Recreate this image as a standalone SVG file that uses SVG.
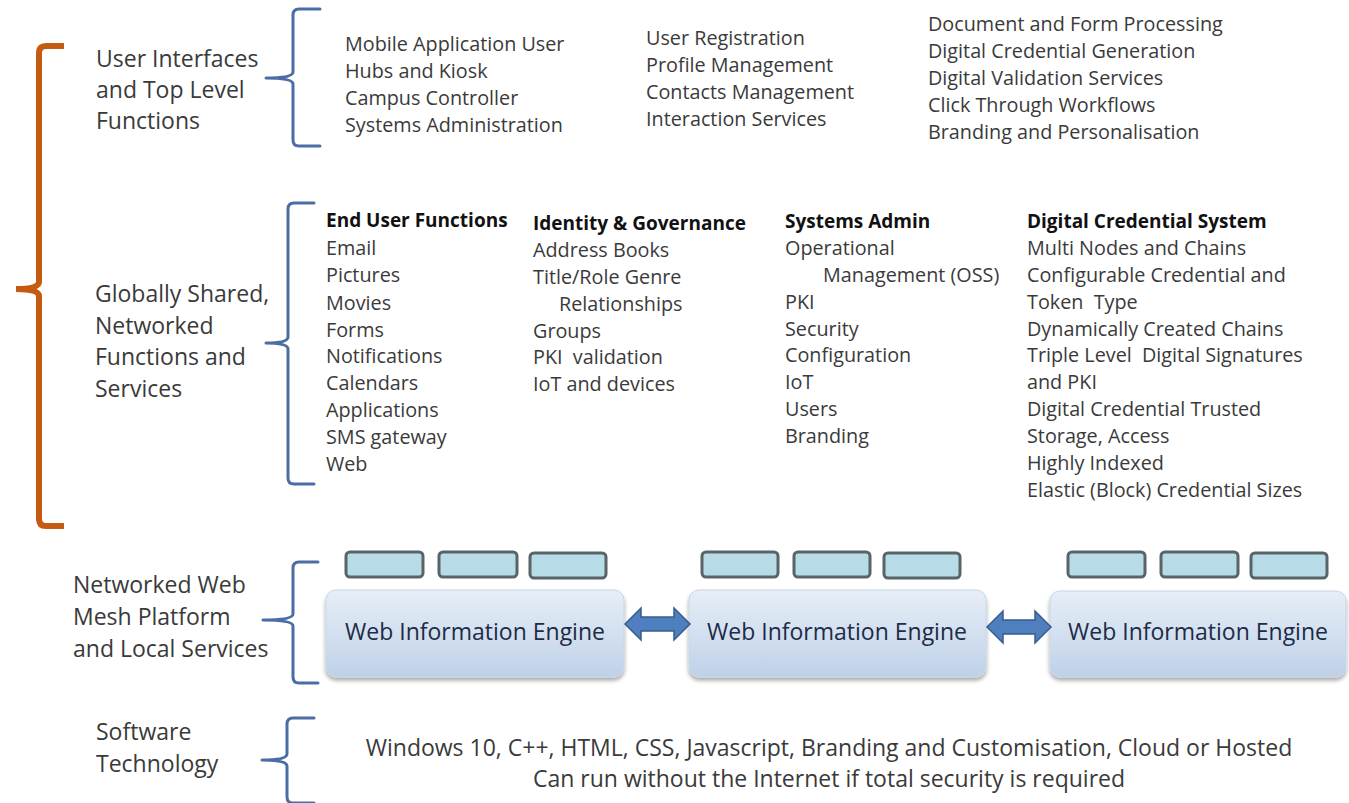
<svg xmlns="http://www.w3.org/2000/svg" width="1349" height="803" viewBox="0 0 1349 803">
  <style>
    .t { font-family: "Open Sans", "Noto Sans", sans-serif; fill: #3a3a3a; }
    .lbl { font-size: 23px; }
    .item { font-size: 19.8px; }
    .head { font-size: 19px; font-weight: bold; fill: #111; }
    .eng { font-family: "Open Sans", "Noto Sans", sans-serif; font-size: 23px; fill: #1d2b45; text-anchor: middle; }
    .brace { fill: none; stroke: #4a6ea3; stroke-width: 3; stroke-linejoin: round; stroke-linecap: round; }
    .slot { fill: #b8dce7; stroke: #596468; stroke-width: 3; }
    .engine { fill: url(#engFill); stroke: #c9d6e6; stroke-width: 1; filter: url(#shadow); }
    .dbl { fill: #4f7fbf; stroke: #375c8d; stroke-width: 1.5; }
  </style>
  <defs>
    <linearGradient id="engFill" x1="0" y1="0" x2="0" y2="1">
      <stop offset="0" stop-color="#e6eef8"/>
      <stop offset="0.5" stop-color="#d3e0f0"/>
      <stop offset="1" stop-color="#bfd1e8"/>
    </linearGradient>
    <filter id="shadow" x="-5%" y="-10%" width="110%" height="130%">
      <feGaussianBlur in="SourceAlpha" stdDeviation="2"/>
      <feOffset dx="0" dy="3" result="b"/>
      <feComponentTransfer><feFuncA type="linear" slope="0.35"/></feComponentTransfer>
      <feMerge><feMergeNode/><feMergeNode in="SourceGraphic"/></feMerge>
    </filter>
  </defs>
  <rect width="1349" height="803" fill="#ffffff"/>

  <!-- outer orange bracket spanning the upper two tiers -->
  <path id="outer-bracket" d="M64,46 L46,46 Q39,46 39,53 L39,282 Q39,289 16,289 Q39,289 39,296 L39,519 Q39,526 46,526 L64,526" fill="none" stroke="#c55a11" stroke-width="6"/>

  <!-- tier 1: user interfaces -->
  <g id="tier-ui">
    <text class="t lbl" x="96" y="67">User Interfaces</text>
    <text class="t lbl" x="96" y="98">and Top Level</text>
    <text class="t lbl" x="96" y="129">Functions</text>
    <path class="brace" d="M320,9 L299,9 Q293,9 293,15 L293,72 Q293,78 266,78 Q293,78 293,84 L293,140 Q293,146 299,146 L320,146"/>
  </g>
  <g id="ui-col1">
    <text class="t item" x="345" y="51">Mobile Application User</text>
    <text class="t item" x="345" y="78">Hubs and Kiosk</text>
    <text class="t item" x="345" y="105">Campus Controller</text>
    <text class="t item" x="345" y="132">Systems Administration</text>
  </g>
  <g id="ui-col2">
    <text class="t item" x="646" y="45">User Registration</text>
    <text class="t item" x="646" y="72">Profile Management</text>
    <text class="t item" x="646" y="99">Contacts Management</text>
    <text class="t item" x="646" y="126">Interaction Services</text>
  </g>
  <g id="ui-col3">
    <text class="t item" x="928" y="31">Document and Form Processing</text>
    <text class="t item" x="928" y="58">Digital Credential Generation</text>
    <text class="t item" x="928" y="85">Digital Validation Services</text>
    <text class="t item" x="928" y="112">Click Through Workflows</text>
    <text class="t item" x="928" y="139">Branding and Personalisation</text>
  </g>

  <!-- tier 2: shared services -->
  <g id="tier-shared">
    <text class="t lbl" x="95" y="302">Globally Shared,</text>
    <text class="t lbl" x="95" y="334">Networked</text>
    <text class="t lbl" x="95" y="365">Functions and</text>
    <text class="t lbl" x="95" y="397">Services</text>
    <path class="brace" d="M314,203 L294,203 Q288,203 288,209 L288,337 Q288,343 266,343 Q288,343 288,349 L288,478 Q288,484 294,484 L314,484"/>
  </g>
  <g id="end-user">
    <text class="t head" x="326" y="227">End User Functions</text>
    <text class="t item" x="326" y="255">Email</text>
    <text class="t item" x="326" y="282">Pictures</text>
    <text class="t item" x="326" y="310">Movies</text>
    <text class="t item" x="326" y="337">Forms</text>
    <text class="t item" x="326" y="363">Notifications</text>
    <text class="t item" x="326" y="390">Calendars</text>
    <text class="t item" x="326" y="417">Applications</text>
    <text class="t item" x="326" y="444">SMS gateway</text>
    <text class="t item" x="326" y="471">Web</text>
  </g>
  <g id="identity">
    <text class="t head" x="533" y="230">Identity &amp; Governance</text>
    <text class="t item" x="533" y="257">Address Books</text>
    <text class="t item" x="533" y="284">Title/Role Genre</text>
    <text class="t item" x="559" y="311">Relationships</text>
    <text class="t item" x="533" y="338">Groups</text>
    <text class="t item" x="533" y="364" xml:space="preserve">PKI  validation</text>
    <text class="t item" x="533" y="391">IoT and devices</text>
  </g>
  <g id="sys-admin">
    <text class="t head" x="785" y="228">Systems Admin</text>
    <text class="t item" x="785" y="255">Operational</text>
    <text class="t item" x="823" y="282">Management (OSS)</text>
    <text class="t item" x="785" y="309">PKI</text>
    <text class="t item" x="785" y="336">Security</text>
    <text class="t item" x="785" y="362">Configuration</text>
    <text class="t item" x="785" y="389">IoT</text>
    <text class="t item" x="785" y="416">Users</text>
    <text class="t item" x="785" y="443">Branding</text>
  </g>
  <g id="credential-system">
    <text class="t head" x="1027" y="228">Digital Credential System</text>
    <text class="t item" x="1027" y="255">Multi Nodes and Chains</text>
    <text class="t item" x="1027" y="282">Configurable Credential and</text>
    <text class="t item" x="1027" y="309" xml:space="preserve">Token  Type</text>
    <text class="t item" x="1027" y="336">Dynamically Created Chains</text>
    <text class="t item" x="1027" y="362" xml:space="preserve">Triple Level  Digital Signatures</text>
    <text class="t item" x="1027" y="389">and PKI</text>
    <text class="t item" x="1027" y="416">Digital Credential Trusted</text>
    <text class="t item" x="1027" y="443">Storage, Access</text>
    <text class="t item" x="1027" y="470">Highly Indexed</text>
    <text class="t item" x="1027" y="497">Elastic (Block) Credential Sizes</text>
  </g>

  <!-- tier 3: mesh platform -->
  <g id="tier-mesh">
    <text class="t lbl" x="73" y="593">Networked Web</text>
    <text class="t lbl" x="73" y="625">Mesh Platform</text>
    <text class="t lbl" x="73" y="657">and Local Services</text>
    <path class="brace" d="M318,562 L299,562 Q293,562 293,568 L293,614 Q293,620 263,620 Q293,620 293,626 L293,677 Q293,683 299,683 L318,683"/>
  </g>
  <g id="engine-1">
    <rect class="slot" x="346" y="552" width="77" height="25" rx="4"/>
    <rect class="slot" x="439" y="552" width="78" height="25" rx="4"/>
    <rect class="slot" x="530" y="553" width="76" height="25" rx="4"/>
    <rect class="engine" x="326" y="590" width="298" height="87" rx="10"/>
    <text class="eng" x="475" y="640">Web Information Engine</text>
  </g>
  <g id="engine-2">
    <rect class="slot" x="702" y="552" width="76" height="25" rx="4"/>
    <rect class="slot" x="794" y="552" width="76" height="25" rx="4"/>
    <rect class="slot" x="884" y="553" width="76" height="25" rx="4"/>
    <rect class="engine" x="689" y="590" width="297" height="87" rx="10"/>
    <text class="eng" x="837" y="640">Web Information Engine</text>
  </g>
  <g id="engine-3">
    <rect class="slot" x="1068" y="552" width="77" height="25" rx="4"/>
    <rect class="slot" x="1161" y="552" width="77" height="25" rx="4"/>
    <rect class="slot" x="1251" y="553" width="76" height="25" rx="4"/>
    <rect class="engine" x="1050" y="591" width="296" height="86" rx="10"/>
    <text class="eng" x="1198" y="640">Web Information Engine</text>
  </g>

  <!-- links between engines -->
  <g id="connectors">
    <path class="dbl" d="M625,624 L641,608 L641,617 L674,617 L674,608 L690,624 L674,640 L674,631 L641,631 L641,640 Z"/>
    <path class="dbl" d="M987,627 L1003,611 L1003,620 L1035,620 L1035,611 L1051,627 L1035,643 L1035,634 L1003,634 L1003,643 Z"/>
  </g>

  <!-- tier 4: software technology -->
  <g id="tier-software">
    <text class="t lbl" x="96" y="740">Software</text>
    <text class="t lbl" x="96" y="772">Technology</text>
    <path class="brace" d="M314,718 L293,718 Q287,718 287,724 L287,754 Q287,760 262,760 Q287,760 287,766 L287,797 Q287,803 293,803 L314,803"/>
    <text class="t lbl" x="829" y="756" text-anchor="middle">Windows 10, C++, HTML, CSS, Javascript, Branding and Customisation, Cloud or Hosted</text>
    <text class="t lbl" x="829" y="787" text-anchor="middle">Can run without the Internet if total security is required</text>
  </g>
</svg>
